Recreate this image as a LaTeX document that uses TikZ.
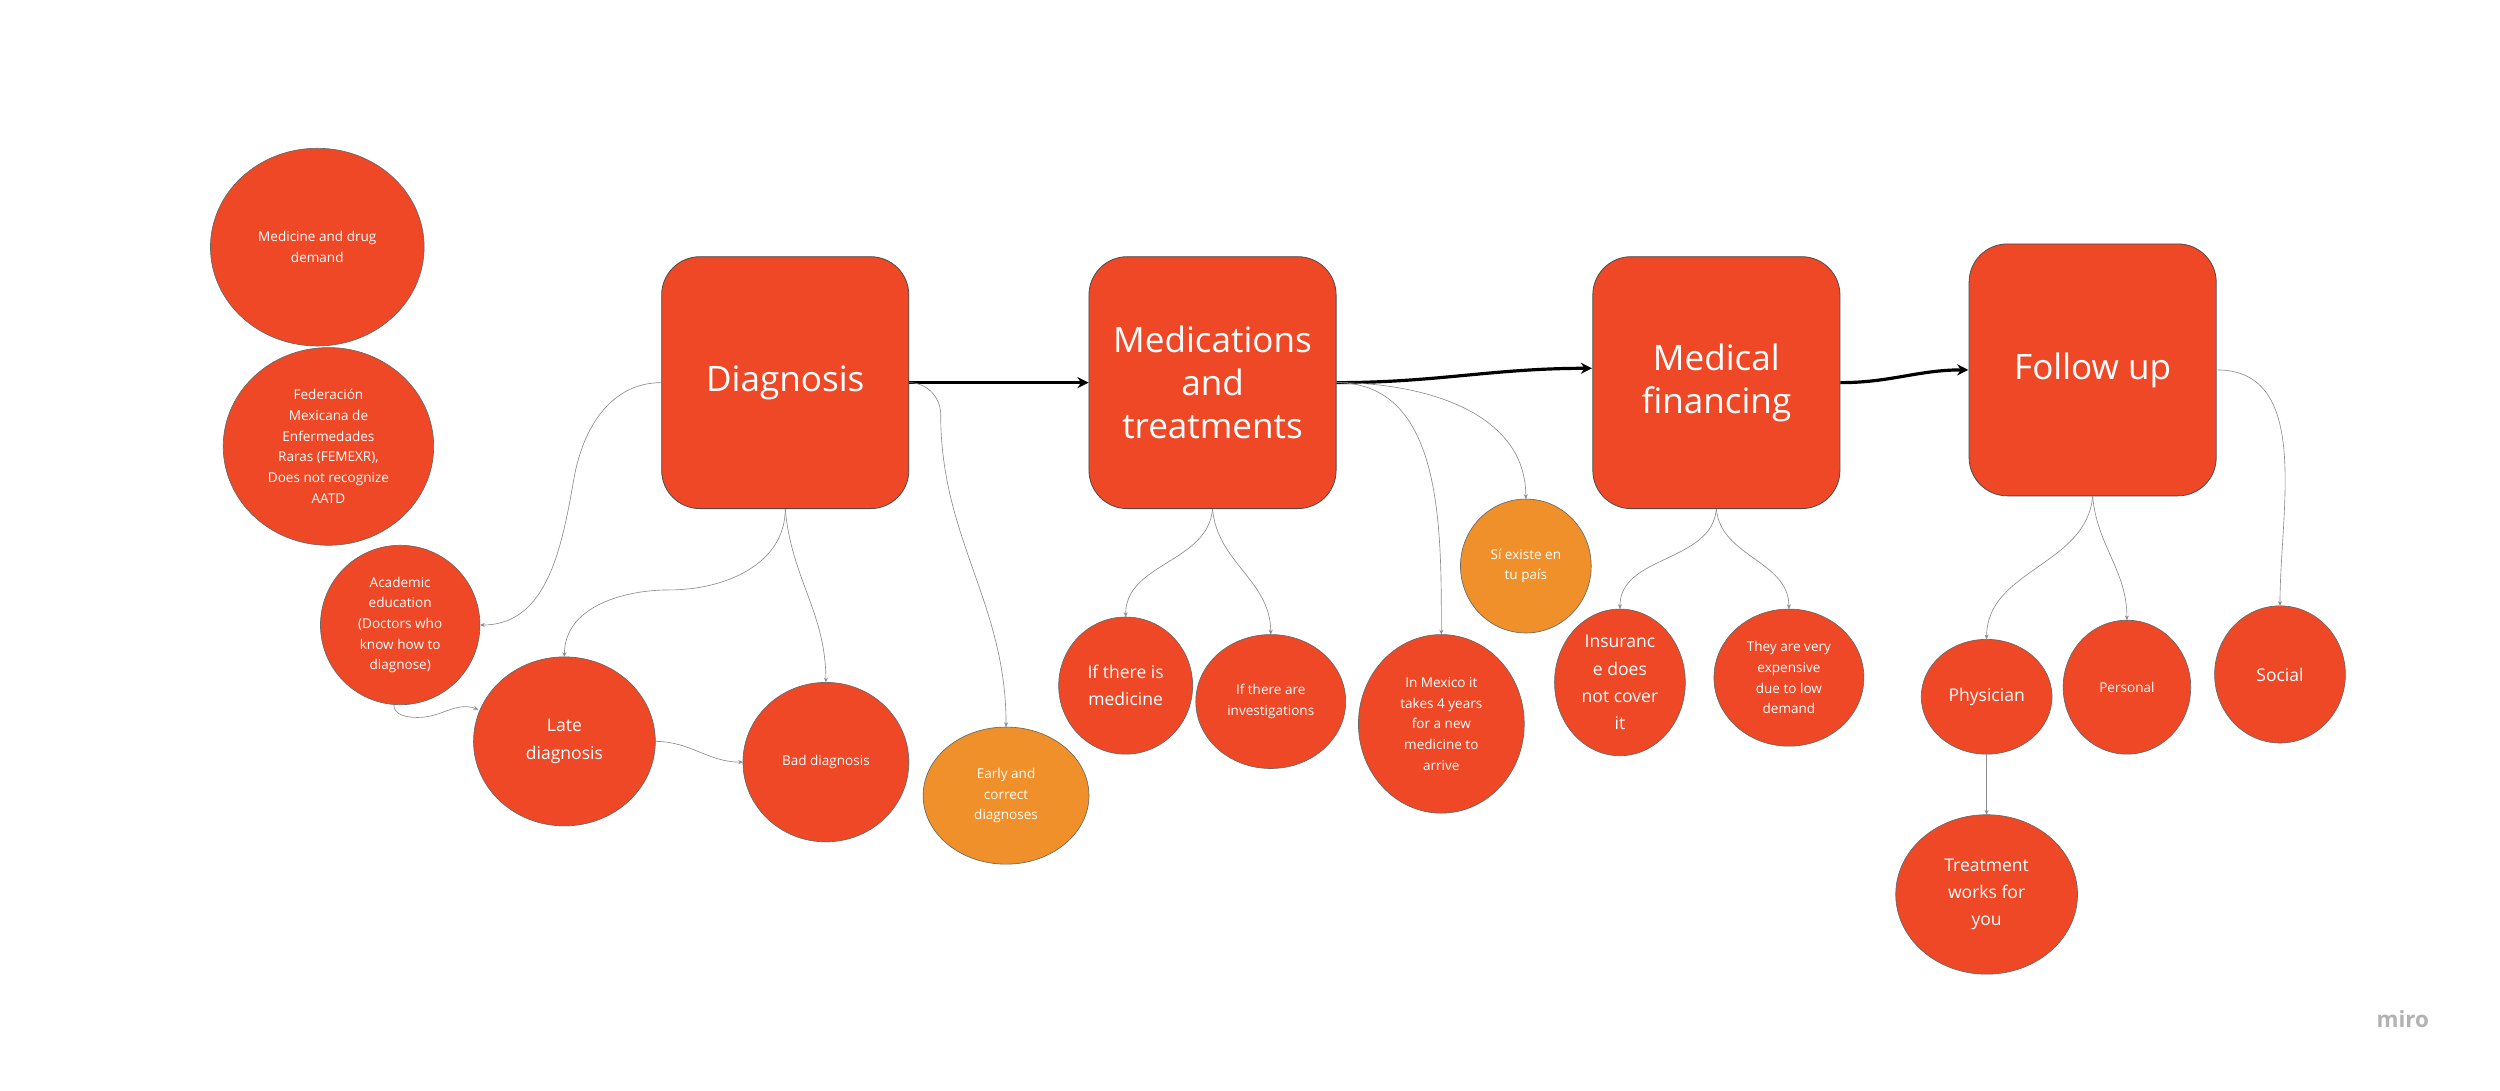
\documentclass[tikz,border=0pt]{standalone}
\usepackage{fontspec}
\setmainfont{Open Sans}
\usetikzlibrary{arrows.meta}
\definecolor{rd}{HTML}{EF4826}
\definecolor{og}{HTML}{F0902A}
\begin{document}
\begin{tikzpicture}[x=1pt,y=-1pt,
 box/.style={draw=black!70,line width=0.5pt,fill=rd,rounded corners=24pt,minimum width=155pt,minimum height=158pt,text=white,font=\fontsize{22}{27}\selectfont,align=center},
 thin/.style={draw=black!45,line width=0.4pt,-{Stealth[length=3pt,width=2.5pt]}},
 thick/.style={line width=2pt,-{Stealth[length=7pt,width=7pt]}}]
\useasboundingbox (0,0) rectangle (1568,684);
\fill[white] (0,0) rectangle (1568,684);
% boxes
\node[box] (dg) at (492.5,240) {Diagnosis};
\node[box] (md) at (760.5,240) {Medications\\and\\treatments};
\node[box] (mf) at (1076.5,240) {Medical\\financing};
\node[box] (fu) at (1312.5,232) {Follow up};
\foreach \c/\x/\y/\a/\b in {rd/199/155/67/62, rd/206/280/66/62, rd/251/392/50/50, rd/354/465/57/53, rd/518/478/52/50, og/631/499/52/43, rd/706/430/42/43, rd/797/440/47/42, rd/904/454/52/56, og/957/355/41/42, rd/1016/428/41/46, rd/1122/425/47/43, rd/1246/437/41/36, rd/1334/431/40/42, rd/1430/423/41/43, rd/1246/561/57/50}
  \path[draw=black!60,line width=0.4pt,fill=\c] (\x,\y) ellipse [x radius=\a pt,y radius=\b pt];
\tikzset{lab/.style={text=white,align=center,font=\fontsize{8.5}{13}\selectfont,inner sep=0pt},
 labb/.style={lab,font=\fontsize{11}{17}\selectfont}}
\node[lab] (a1) at (199,155) {Medicine and drug\\demand};
\node[lab] (a2) at (206,280) {Federación\\Mexicana de\\Enfermedades\\Raras (FEMEXR),\\Does not recognize\\AATD};
\node[lab] (a3) at (251,392) {Academic\\education\\(Doctors who\\know how to\\diagnose)};
\node[labb] (a4) at (354,465) {Late\\diagnosis};
\node[lab] (a5) at (518,478) {Bad diagnosis};
\node[lab] (a6) at (631,499) {Early and\\correct\\diagnoses};
\node[labb] (b1) at (706,430) {If there is\\medicine};
\node[lab] (b2) at (797,440) {If there are\\investigations};
\node[lab] (b3) at (904,454) {In Mexico it\\takes 4 years\\for a new\\medicine to\\arrive};
\node[lab] (b4) at (957,355) {Sí existe en\\tu país};
\node[labb] (c1) at (1016,428) {Insuranc\\e does\\not cover\\it};
\node[lab] (c2) at (1122,425) {They are very\\expensive\\due to low\\demand};
\node[labb] (d1) at (1246,437) {Physician};
\node[lab] (d2) at (1334,431) {Personal};
\node[labb] (d3) at (1430,423) {Social};
\node[labb] (d4) at (1246,561) {Treatment\\works for\\you};
\node[text=black!30,font=\fontsize{14}{16}\selectfont\bfseries] (miro) at (1507,639) {miro};
\coordinate (a3r) at (301,392); \coordinate (a3b) at (247,442);
\coordinate (a4t) at (354,412); \coordinate (a4l) at (300,445); \coordinate (a4r) at (411,465);
\coordinate (a5t) at (518,428); \coordinate (a5l) at (466,478);
\coordinate (a6t) at (631,456);
\coordinate (b1t) at (706,387); \coordinate (b2t) at (797,398);
\coordinate (b3t) at (904,398); \coordinate (b4t) at (957,313);
\coordinate (c1t) at (1016,382); \coordinate (c2t) at (1122,382);
\coordinate (d1t) at (1246,401); \coordinate (d1b) at (1246,473);
\coordinate (d2t) at (1334,389); \coordinate (d3t) at (1430,380);
\coordinate (d4t) at (1246,511);
\coordinate (mfin) at (998.5,231); \coordinate (fuin) at (1234.5,232);
% thick arrows
\draw[thick] (dg.east) -- (md.west);
\draw[thick] (md.east) to[out=0,in=180] (mfin);
\draw[thick] (mf.east) to[out=0,in=180] (fuin);
% thin connectors
\draw[thin] (dg.west) to[out=180,in=80] (360,300) to[out=-100,in=0] (a3r);
\draw[thin] (dg.south) to[out=-90,in=0] (420,370) to[out=180,in=90] (a4t);
\draw[thin] (dg.south) to[out=-85,in=90] (a5t);
\draw[thin] (dg.east) to[out=0,in=90] (590,260) to[out=-90,in=90] (a6t);
\draw[thin] (a3b) to[out=-90,in=180] (262,450) to[out=0,in=160] (a4l);
\draw[thin] (a4r) to[out=0,in=180] (a5l);
\draw[thin] (md.south) to[out=-95,in=90] (b1t);
\draw[thin] (md.south) to[out=-85,in=90] (b2t);
\draw[thin] (md.east) to[out=0,in=90] (b3t);
\draw[thin] (md.east) to[out=0,in=90] (b4t);
\draw[thin] (mf.south) to[out=-95,in=90] (c1t);
\draw[thin] (mf.south) to[out=-85,in=90] (c2t);
\draw[thin] (fu.south) to[out=-95,in=90] (d1t);
\draw[thin] (fu.south) to[out=-85,in=90] (d2t);
\draw[thin] (fu.east) to[out=0,in=90] (d3t);
\draw[thin] (d1b) -- (d4t);
\end{tikzpicture}
\end{document}
